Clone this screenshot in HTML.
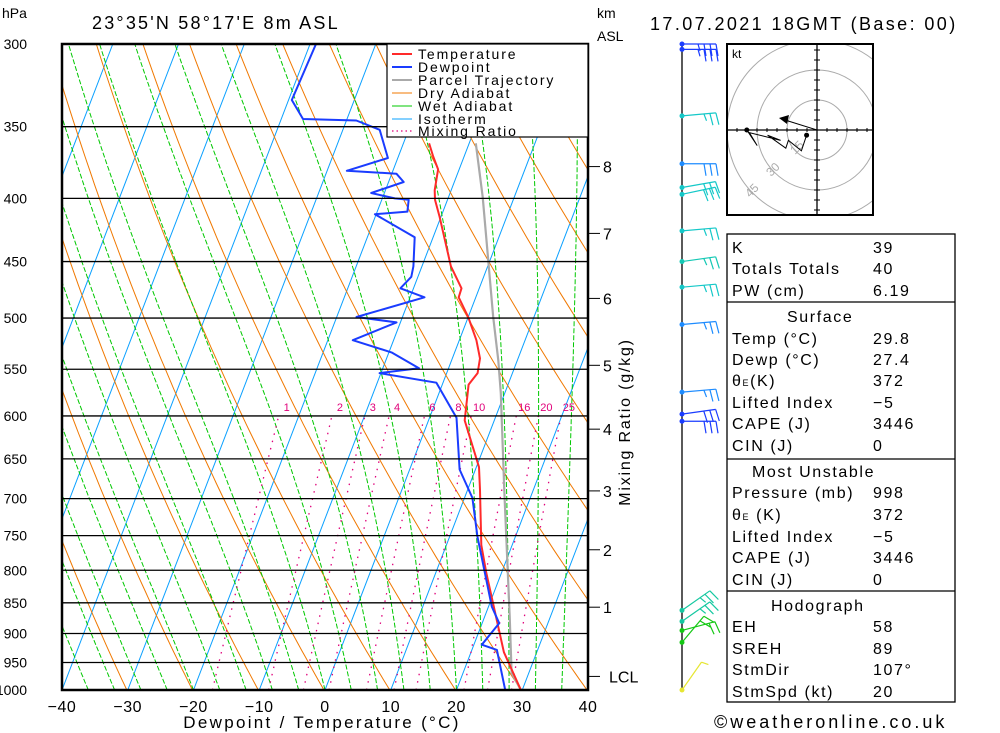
<!DOCTYPE html>
<html><head><meta charset="utf-8">
<style>
html,body{margin:0;padding:0;background:#fff;}
svg{display:block;font-family:"Liberation Sans",sans-serif;}
</style></head>
<body>
<svg id="c" width="1000" height="733" viewBox="0 0 1000 733" xmlns="http://www.w3.org/2000/svg">
<defs><clipPath id="plotclip"><rect x="62" y="44" width="526" height="646"/></clipPath>
<clipPath id="hodoclip"><rect x="727" y="44" width="146" height="171"/></clipPath></defs>
<g id="bg" clip-path="url(#plotclip)"></g>
<g id="prof" clip-path="url(#plotclip)"></g>
<g id="axes"></g>

<text x="2" y="18" font-size="14">hPa</text>
<text x="92" y="29" font-size="18" letter-spacing="2.2">23°35'N  58°17'E  8m  ASL</text>
<text x="597" y="18" font-size="14">km</text>
<text x="597" y="41" font-size="14">ASL</text>
<text x="650" y="30" font-size="18" letter-spacing="2.4">17.07.2021  18GMT  (Base: 00)</text>
<text x="322" y="728" font-size="17" text-anchor="middle" letter-spacing="2.3">Dewpoint / Temperature (°C)</text>
<text transform="translate(630,422) rotate(-90)" font-size="16" text-anchor="middle" letter-spacing="1.8">Mixing Ratio (g/kg)</text>

<g>
<rect x="387" y="44" width="201" height="93" fill="#fff" stroke="#000" stroke-width="1.2"/>
<g font-size="14" letter-spacing="1.9">
<line x1="392" y1="54" x2="412" y2="54" stroke="#ff2a2a" stroke-width="2"/><text x="418" y="59">Temperature</text>
<line x1="392" y1="67" x2="412" y2="67" stroke="#1a3cff" stroke-width="2"/><text x="418" y="72">Dewpoint</text>
<line x1="392" y1="80" x2="412" y2="80" stroke="#aaa" stroke-width="2"/><text x="418" y="85">Parcel Trajectory</text>
<line x1="392" y1="93" x2="412" y2="93" stroke="#f07800" stroke-width="1"/><text x="418" y="98">Dry Adiabat</text>
<line x1="392" y1="106" x2="412" y2="106" stroke="#00c800" stroke-width="1"/><text x="418" y="111">Wet Adiabat</text>
<line x1="392" y1="119" x2="412" y2="119" stroke="#0aa0ff" stroke-width="1"/><text x="418" y="124">Isotherm</text>
<line x1="392" y1="131" x2="412" y2="131" stroke="#e0007a" stroke-width="1.2" stroke-dasharray="1.5,3"/><text x="418" y="136">Mixing Ratio</text>
</g></g>

<g id="barbs"></g>
<g id="hodo"></g>

<g font-size="16" letter-spacing="1.6">
<rect x="727" y="234" width="228" height="468" fill="none" stroke="#000" stroke-width="1.3"/>
<line x1="727" y1="302" x2="955" y2="302" stroke="#000" stroke-width="1.3"/>
<line x1="727" y1="459" x2="955" y2="459" stroke="#000" stroke-width="1.3"/>
<line x1="727" y1="591" x2="955" y2="591" stroke="#000" stroke-width="1.3"/>
<text x="732" y="253">K</text><text x="873" y="253">39</text>
<text x="732" y="274">Totals Totals</text><text x="873" y="274">40</text>
<text x="732" y="296">PW (cm)</text><text x="873" y="296">6.19</text>
<text x="787" y="322">Surface</text>
<text x="732" y="344">Temp (°C)</text><text x="873" y="344">29.8</text>
<text x="732" y="365">Dewp (°C)</text><text x="873" y="365">27.4</text>
<text x="732" y="386">θ<tspan font-size="9">E</tspan>(K)</text><text x="873" y="386">372</text>
<text x="732" y="408">Lifted Index</text><text x="873" y="408">−5</text>
<text x="732" y="429">CAPE (J)</text><text x="873" y="429">3446</text>
<text x="732" y="451">CIN (J)</text><text x="873" y="451">0</text>
<text x="752" y="477">Most Unstable</text>
<text x="732" y="498">Pressure (mb)</text><text x="873" y="498">998</text>
<text x="732" y="520">θ<tspan font-size="9">E</tspan> (K)</text><text x="873" y="520">372</text>
<text x="732" y="542">Lifted Index</text><text x="873" y="542">−5</text>
<text x="732" y="563">CAPE (J)</text><text x="873" y="563">3446</text>
<text x="732" y="585">CIN (J)</text><text x="873" y="585">0</text>
<text x="771" y="611">Hodograph</text>
<text x="732" y="632">EH</text><text x="873" y="632">58</text>
<text x="732" y="654">SREH</text><text x="873" y="654">89</text>
<text x="732" y="675">StmDir</text><text x="873" y="675">107°</text>
<text x="732" y="697">StmSpd (kt)</text><text x="873" y="697">20</text>
</g>
<text x="714" y="728" font-size="18" letter-spacing="3">©weatheronline.co.uk</text>

<script>
// ---- data ----
const tempP = [1000,932,804,763,689,660,605,566,554,539,521,499,481,473,454,414,401,394,379,370,361];
const tempT = [29.8,25.0,17.7,15.3,11.9,10.4,5.5,4.0,4.7,4.2,2.6,0.0,-2.6,-2.7,-5.6,-10.2,-11.9,-12.5,-13.2,-14.7,-16.1];
const dewP = [1000,928,919,883,856,751,699,663,602,564,554,549,533,521,504,499,481,473,463,454,430,412,410,401,400,396,388,382,380,371,352,346,345,333,300];
const dewT = [27.4,23.8,21.2,22.6,20.5,14.2,11.2,7.6,4.1,-1.0,-10.2,-4.5,-9.6,-16.2,-10.6,-17.0,-7.8,-12.0,-11.0,-11.3,-12.8,-20.2,-15.4,-15.9,-18.1,-22.0,-17.7,-19.3,-27.0,-21.5,-24.4,-28.5,-36.7,-39.5,-39.1];
const parcelP = [1000,969,872,693,575,541,499,399,361];
const parcelT = [29.8,27.4,23.8,15.8,9.4,7.1,3.8,-4.8,-9.0];
const pressureTicks = [300,350,400,450,500,550,600,650,700,750,800,850,900,950,1000];
const tempTickLabels = [-40,-30,-20,-10,0,10,20,30,40];
const mixRatios = [1,2,3,4,6,8,10,16,20,25];
const kmLabels = ['8','7','6','5','4','3','2','1','LCL'];
const kmPress = [377,427,482,546,615,690,770,857,975];
const barbP = [300,303,343,375,392,397,425,450,472,506,574,598,606,862,880,895,915,1000];
const barbDir = [270,270,265,270,260,258,265,262,265,265,265,262,270,235,235,255,220,215];
const barbSpd = [35,35,25,30,30,30,25,25,25,25,25,30,30,25,25,20,20,5];
const hodoU = [-27,-23,-26,-14,-19,-12,-11,-6,-4];
const hodoV = [0,-6,-1,-4,-2,-7,-4,-8,-2];

// ---- scales ----
const NS='http://www.w3.org/2000/svg';
const L0=Math.log(300), LR=Math.log(1000/300);
function Y(p){return 44+(Math.log(p)-L0)/LR*646;}
function X(T,p){return 325+6.575*T+0.384*(690-Y(p));}
function el(parent,tag,attrs){const e=document.createElementNS(NS,tag);for(const k in attrs)e.setAttribute(k,attrs[k]);parent.appendChild(e);return e;}
function pathFrom(pts){return pts.map((q,i)=>(i?'L':'M')+q[0].toFixed(1)+' '+q[1].toFixed(1)).join(' ');}
const bg=document.getElementById('bg'), prof=document.getElementById('prof'), axes=document.getElementById('axes');

for(let T=-110;T<=40;T+=10){
  const ln=el(bg,'line',{x1:X(T,1000),y1:Y(1000),x2:X(T,300),y2:Y(300),stroke:'#0aa0ff','stroke-width':1});
  
  
}
for(let th=233;th<=483;th+=10){
  const pts=[];for(let p=1000;p>=300;p-=10){pts.push([X(th*Math.pow(p/1000,0.2857)-273.15,p),Y(p)]);}
  const e=el(bg,'path',{d:pathFrom(pts),fill:'none',stroke:'#f07800','stroke-width':1});
  
  
}
function es(Tc){return 6.112*Math.exp(17.67*Tc/(Tc+243.5));}
for(let t0=-36;t0<=36;t0+=4){
  let T=t0+273.15;const pts=[[X(t0,1000),Y(1000)]];
  for(let p=1000;p>300;p-=5){
    const Tc=T-273.15, rs=0.622*es(Tc)/(p-es(Tc));
    const dTdp=(287*T+2.5e6*rs)/(p*(1005+2.5e6*2.5e6*rs*0.622/(287*T*T)));
    T-=dTdp*5;pts.push([X(T-273.15,p-5),Y(p-5)]);
  }
  const e=el(bg,'path',{d:pathFrom(pts),fill:'none',stroke:'#00c800','stroke-width':1,'stroke-dasharray':'5,2'});
  
  
}
function tdFromW(w,p){const e_=w/1000*p/(0.622+w/1000);const a=Math.log(e_/6.112);return 243.5*a/(17.67-a);}
mixRatios.forEach(w=>{
  const pts=[];for(let p=1000;p>=600;p-=10){pts.push([X(tdFromW(w,p),p),Y(p)]);}
  const e=el(bg,'path',{d:pathFrom(pts),fill:'none',stroke:'#e0007a','stroke-width':1.3,'stroke-dasharray':'1.5,6'});
  
  
  const t=el(axes,'text',{x:X(tdFromW(w,600),600)+8,y:411,'font-size':11,fill:'#e0007a','text-anchor':'middle'});
  t.textContent=w;
  
  
});
pressureTicks.forEach(p=>{
  const ln=el(axes,'line',{x1:62,x2:588,y1:Y(p),y2:Y(p),stroke:'#000','stroke-width':1.3});
  
  
  const t=el(axes,'text',{x:27,y:Y(p)+5,'font-size':14,'text-anchor':'end'});t.textContent=p;
  
  
});
function prof_line(P,T,color,w,name){
  const e=el(prof,'path',{d:pathFrom(P.map((p,i)=>[X(T[i],p),Y(p)])),fill:'none',stroke:color,'stroke-width':w,'stroke-linejoin':'round'});
  
  
}
prof_line(parcelP,parcelT,'#aaa',2.2,'parcel-trajectory');
prof_line(tempP,tempT,'#ff2a2a',2,'temperature-line');
prof_line(dewP,dewT,'#1a3cff',2,'dewpoint-line');
const fr=el(axes,'rect',{x:62,y:44,width:526,height:646,fill:'none',stroke:'#000','stroke-width':2.5});


tempTickLabels.forEach(T=>{
  const x=62+(T+40)*6.575;
  const t=el(axes,'text',{x:x,y:712,'font-size':16,'text-anchor':'middle','letter-spacing':'0.5'});t.textContent=(T<0?'−':'')+Math.abs(T);
  
  
});
kmLabels.forEach((k,i)=>{
  const y=Y(kmPress[i]);
  el(axes,'line',{x1:588,x2:600,y1:y,y2:y,stroke:'#000','stroke-width':1});
  const t=el(axes,'text',{x:k==='LCL'?609:603,y:y+6,'font-size':16});t.textContent=k;
  
  
});
// wind barbs
const bgp=document.getElementById('barbs');
el(bgp,'line',{x1:682,y1:44,x2:682,y2:690,stroke:'#000','stroke-width':1.3});
const barbColors=['#1a3cff','#1a3cff','#14c8c8','#1e8cff','#14c8c8','#14c8c8','#14c8c8','#14c8b4','#14c8c8','#1e8cff','#1e8cff','#1a3cff','#1a3cff','#14c8a0','#14c8a0','#14c814','#14c814','#e6e632'];
barbP.forEach((p,i)=>{
  const y=Y(p), c=barbColors[i];
  const a=(270-barbDir[i])*Math.PI/180, L=34;
  const dx=Math.cos(a), dy=-Math.sin(a);
  const ex=682+dx*L, ey=y+dy*L;
  const g=el(bgp,'g',{stroke:c,'stroke-width':1.2,fill:'none'});
  
  
  el(g,'line',{x1:682,y1:y,x2:ex,y2:ey});
  const px=-dy, py=dx;
  let n=Math.round(barbSpd[i]/5);let pos=0;
  while(n>0){
    const len=n>=2?12:7;
    const bx=ex-dx*pos*6, by=ey-dy*pos*6;
    el(g,'line',{x1:bx,y1:by,x2:bx+px*len+dx*2,y2:by+py*len+dy*2});
    n-=n>=2?2:1;pos++;
  }
  el(bgp,'circle',{cx:682,cy:y,r:2.5,fill:c});
});
// hodograph
const hg=document.getElementById('hodo');
const cx=817, cy=130;
el(hg,'rect',{x:727,y:44,width:146,height:171,fill:'#fff',stroke:'none'});
const hc=el(hg,'g',{'clip-path':'url(#hodoclip)'});
[30,60,90].forEach(r=>el(hc,'circle',{cx:cx,cy:cy,r:r,fill:'none',stroke:'#aaa','stroke-width':1}));
el(hc,'line',{x1:727,y1:cy,x2:873,y2:cy,stroke:'#000','stroke-width':1.3});
el(hc,'line',{x1:cx,y1:44,x2:cx,y2:215,stroke:'#000','stroke-width':1.3});
for(let k=-9;k<=9;k++){const d=k*10;
  el(hc,'line',{x1:cx+d,y1:cy-2,x2:cx+d,y2:cy+2,stroke:'#000'});
  el(hc,'line',{x1:cx-3,y1:cy+d,x2:cx+3,y2:cy+d,stroke:'#000'});}
el(hg,'rect',{x:727,y:44,width:146,height:171,fill:'none',stroke:'#000','stroke-width':2});
const kt=el(hg,'text',{x:732,y:58,'font-size':12});kt.textContent='kt';
[['15',795,155],['30',771,177],['45',750,198]].forEach(a=>{const t=el(hg,'text',{x:a[1],y:a[2],'font-size':12,fill:'#aaa',transform:'rotate(-45 '+a[1]+' '+a[2]+')'});t.textContent=a[0];});
const hs=2.6;
const hp=el(hg,'path',{d:pathFrom(hodoU.map((u,i)=>[cx+u*hs,cy-hodoV[i]*hs])),fill:'none',stroke:'#000','stroke-width':1});


el(hg,'circle',{cx:cx+hodoU[0]*hs,cy:cy-hodoV[0]*hs,r:2.5,fill:'#000'});
el(hg,'circle',{cx:cx+hodoU[hodoU.length-1]*hs,cy:cy-hodoV[hodoV.length-1]*hs,r:2.5,fill:'#000'});
el(hg,'line',{x1:cx,y1:cy,x2:785,y2:120,stroke:'#000','stroke-width':1});
el(hg,'path',{d:'M779 118 L789 115 L787 124 Z',fill:'#000'});
</script>
</svg>
</body></html>
